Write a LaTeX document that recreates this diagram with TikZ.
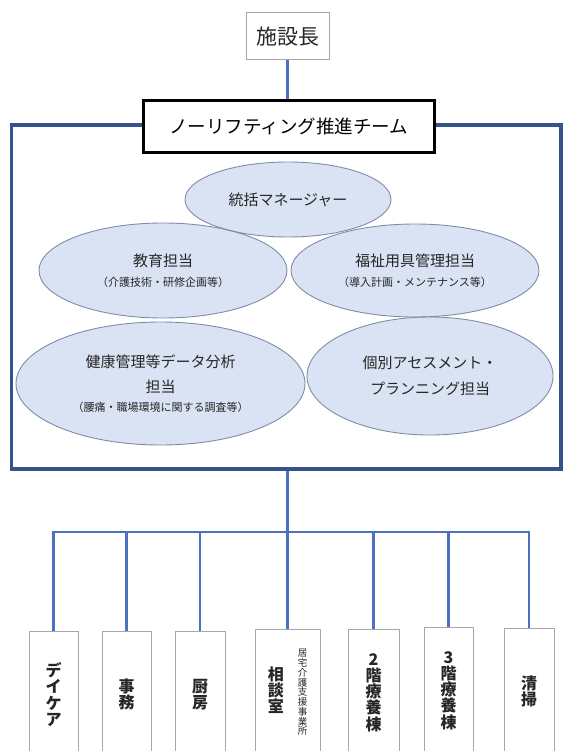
\documentclass[tikz,border=0pt]{standalone}
\usepackage{fontspec}
\setmainfont{Noto Sans CJK JP}
\usetikzlibrary{shapes.geometric, calc}
\definecolor{frameblue}{HTML}{35528F}
\definecolor{connblue}{HTML}{4A72C0}
\definecolor{bubblefill}{HTML}{DAE3F3}
\definecolor{bubbleline}{HTML}{7D8CA8}
\definecolor{boxgray}{HTML}{A6A6A6}
\definecolor{txt}{HTML}{262626}
\newcommand{\vstack}[1]{$\vcenter{\lineskiplimit=-\maxdimen\let\\\cr
  \halign{\hfil##\hfil\cr#1\crcr}}$}

\begin{document}
\begin{tikzpicture}[
  x=1pt, y=-1pt,
  box/.style={draw=boxgray, line width=1pt, fill=white, inner sep=0pt, text=txt},
  team/.style={draw=black, line width=2.6pt, fill=white, inner sep=0pt,
               minimum width=291pt, minimum height=52pt,
               font=\fontsize{18.5}{18.5}\selectfont},
  bubble/.style={ellipse, fill=bubblefill, inner sep=0pt, outer sep=0pt,
                 align=center, text=txt},
  dept/.style={box, anchor=north, minimum height=126pt,
               font=\bfseries\fontsize{16}{16.2}\selectfont},
  teamframe/.style={draw=frameblue, line width=3.5pt, inner sep=0pt},
  conn/.style={draw=connblue, line width=2.7pt}
]
  \useasboundingbox (0,0) rectangle (563,751);

  % Frame around the team
  \node[teamframe, minimum width=549.5pt, minimum height=344pt] (frame) at (286.25,297) {};

  % Head and team
  \node[box, minimum width=83pt, minimum height=47pt,
        font=\fontsize{21}{21}\selectfont] (head) at (287.5,36.5) {施設長};
  \node[team] (team) at (288.85,126.5) {ノーリフティング推進チーム};

  % Members
  \node[bubble, minimum width=206pt, minimum height=75pt,
        font=\fontsize{15}{15}\selectfont] (mgr) at (288,199.5) {統括マネージャー};
  \node[bubble, minimum width=248pt, minimum height=95pt,
        font=\fontsize{15}{19.5}\selectfont] (edu) at (163,270.5)
    {教育担当\\{\fontsize{11}{19.5}\selectfont （介護技術・研修企画等）}};
  \node[bubble, minimum width=248pt, minimum height=93pt,
        font=\fontsize{15}{19.5}\selectfont] (wel) at (415,270.5)
    {福祉用具管理担当\\{\fontsize{11}{19.5}\selectfont （導入計画・メンテナンス等）}};
  \node[bubble, minimum width=289pt, minimum height=123pt,
        font=\fontsize{15}{25}\selectfont] (hlth) at (160.5,383.5)
    {健康管理等データ分析\\担当\\[-6.5pt]{\fontsize{11}{25}\selectfont （腰痛・職場環境に関する調査等）}};
  \node[bubble, minimum width=246pt, minimum height=118pt,
        font=\fontsize{15}{26.5}\selectfont] (asm) at (430,376)
    {個別アセスメント・\\プランニング担当};

  % Outlines on top of all fills
  \foreach \b in {mgr,edu,wel,hlth,asm}
    \draw[bubbleline, line width=0.9pt]
      let \p1=($(\b.east)-(\b.center)$), \p2=($(\b.north)-(\b.center)$) in
      (\b.center) ellipse [x radius=\x1, y radius=\y2];

  % Departments
  \node[dept, minimum width=49pt] (d1) at (53.5,631) {\vstack{デ\\イ\\ケ\\ア}};
  \node[dept, minimum width=49pt] (d2) at (126.5,631) {\vstack{事\\務}};
  \node[dept, minimum width=50pt] (d3) at (200,631) {\vstack{厨\\房}};
  \node[dept, minimum width=65pt] (d4) at (287.5,629)
    {\vstack{相\\談\\室}\hspace{14pt}{\mdseries\fontsize{9.5}{9.75}\selectfont\vstack{居\\宅\\介\\護\\支\\援\\事\\業\\所}}};
  \node[dept, minimum width=51pt] (d5) at (373.5,629) {\vstack{2\\階\\療\\養\\棟}};
  \node[dept, minimum width=49pt] (d6) at (448.5,627) {\vstack{3\\階\\療\\養\\棟}};
  \node[dept, minimum width=50pt] (d7) at (529,628) {\vstack{清\\掃}};

  % Connectors
  \coordinate (jn) at (287.5,532);
  \draw[conn] (head.south) -- (head.south |- team.north);
  \draw[conn] (jn |- frame.south) -- (jn);
  \foreach \d in {d1,d2,d3,d4,d5,d6,d7}
    \draw[conn] (\d.north) |- (jn);
\end{tikzpicture}
\end{document}
